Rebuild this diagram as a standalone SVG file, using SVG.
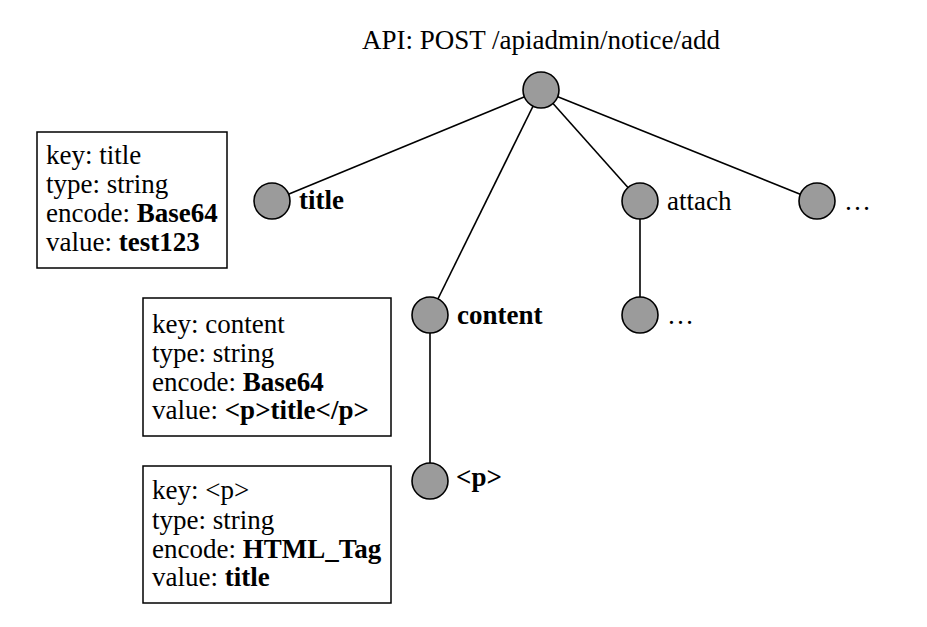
<svg xmlns="http://www.w3.org/2000/svg" width="927" height="627" viewBox="0 0 927 627">
<style>
text{font-family:"Liberation Serif","Times New Roman",serif;font-size:27px;fill:#000}
.b{font-weight:bold}
.n{fill:#9b9b9b;stroke:#000;stroke-width:1.6}
.box{fill:#fff;stroke:#000;stroke-width:1.5}
.e{stroke:#000;stroke-width:1.6;fill:none}
</style>
<rect width="927" height="627" fill="#fff"/>
<text id="api-title" x="362" y="49">API: POST /apiadmin/notice/add</text>
<g id="connectors">
<line class="e" x1="541" y1="90" x2="272" y2="201"/>
<line class="e" x1="541" y1="90" x2="430" y2="315"/>
<line class="e" x1="541" y1="90" x2="640" y2="201"/>
<line class="e" x1="541" y1="90" x2="817" y2="201"/>
<line class="e" x1="640" y1="201" x2="640" y2="315"/>
<line class="e" x1="430" y1="315" x2="430" y2="481"/>
</g>
<g id="root"><circle class="n" cx="541" cy="90" r="18"/></g>
<g id="node-title"><circle class="n" cx="272" cy="201" r="18"/><text class="b" x="299" y="209">title</text></g>
<g id="node-content"><circle class="n" cx="430" cy="315" r="18"/><text class="b" x="457" y="324">content</text></g>
<g id="node-attach"><circle class="n" cx="640" cy="201" r="18"/><text x="667" y="210">attach</text></g>
<g id="node-more"><circle class="n" cx="817" cy="201" r="18"/><text x="844" y="210">…</text></g>
<g id="node-attach-child"><circle class="n" cx="640" cy="315" r="18"/><text x="667" y="324">…</text></g>
<g id="node-p"><circle class="n" cx="430" cy="481" r="18"/><text class="b" x="456" y="486">&lt;p&gt;</text></g>
<g id="box-title">
<rect class="box" x="37" y="132" width="190" height="136"/>
<text x="46" y="164">key: title</text>
<text x="46" y="193">type: string</text>
<text x="46" y="222">encode: <tspan class="b">Base64</tspan></text>
<text x="46" y="251">value: <tspan class="b">test123</tspan></text>
</g>
<g id="box-content">
<rect class="box" x="143" y="298" width="248" height="138"/>
<text x="152" y="333">key: content</text>
<text x="152" y="362">type: string</text>
<text x="152" y="391">encode: <tspan class="b">Base64</tspan></text>
<text x="152" y="419">value: <tspan class="b">&lt;p&gt;title&lt;/p&gt;</tspan></text>
</g>
<g id="box-p">
<rect class="box" x="143" y="466" width="248" height="137"/>
<text x="152" y="499">key: &lt;p&gt;</text>
<text x="152" y="529">type: string</text>
<text x="152" y="558">encode: <tspan class="b">HTML_Tag</tspan></text>
<text x="152" y="586">value: <tspan class="b">title</tspan></text>
</g>
</svg>
